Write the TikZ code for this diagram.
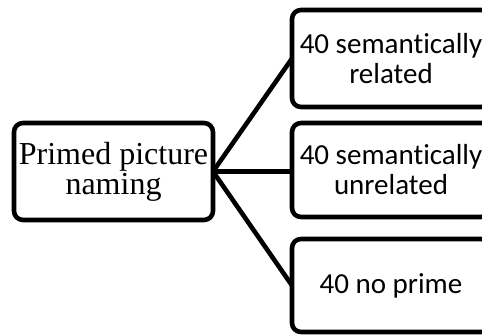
\documentclass[tikz,border=0pt]{standalone}
\usepackage{fontspec}
\setmainfont{Liberation Serif}
\newfontfamily\calib[Ligatures=NoCommon]{Carlito}
\begin{document}
\begin{tikzpicture}[x=1pt,y=-1pt,
  box/.style={draw, line width=4.6pt, rounded corners=9pt, align=center,
    inner sep=0pt, outer sep=0pt},
  leftbox/.style={box, minimum width=199pt, minimum height=97pt,
    font=\fontsize{32}{30}\selectfont},
  rightbox/.style={box, minimum width=198pt,
    font=\calib\fontsize{29}{30}\selectfont},
  link/.style={line width=4.6pt}]
  \useasboundingbox (0,0) rectangle (482,336);
  % main task on the left
  \node[leftbox] (main) at (113.5,171.5) {Primed picture\\naming};
  % three prime conditions on the right
  \node[rightbox, minimum height=97pt] (rel) at (391,58.5) {40 semantically\\related};
  \node[rightbox, minimum height=94pt] (unrel) at (391,170) {40 semantically\\unrelated};
  \node[rightbox, minimum height=93pt] (none) at (391,285.5) {40 no prime};
  % fan-out connectors
  \draw[link] (main.east) -- (rel.west);
  \draw[link] (main.east) -- (main.east -| unrel.west);
  \draw[link] (main.east) -- (none.west);
\end{tikzpicture}
\end{document}
